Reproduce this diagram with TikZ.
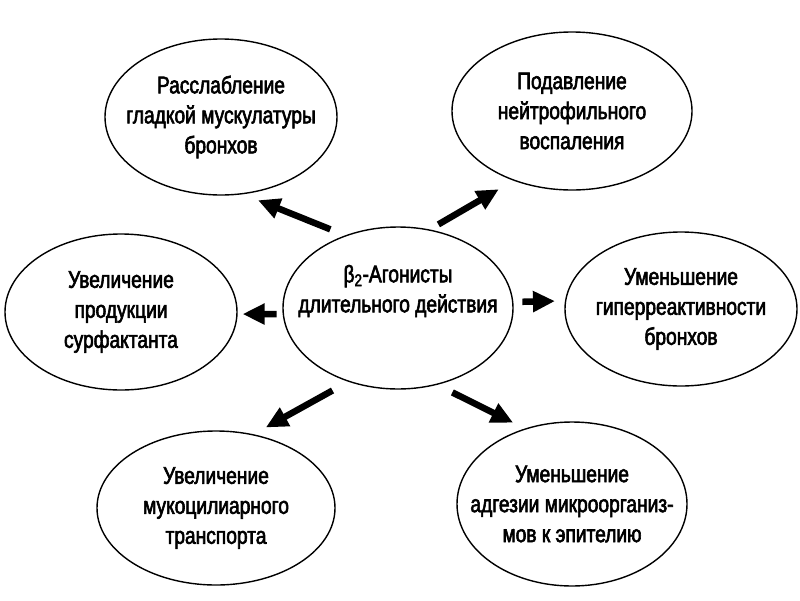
\documentclass[tikz,border=0pt]{standalone}
\usepackage{fontspec}
\setmainfont{Liberation Sans}[FakeStretch=0.8,FakeBold=2.5]
\usetikzlibrary{shapes.geometric,arrows.meta}
\tikzset{
  >=Triangle,
  effect/.style={ellipse,draw,line width=1.4pt,minimum width=232pt,minimum height=156pt,
    inner xsep=-25pt,inner ysep=0pt,align=center,font=\fontsize{24}{30}\selectfont},
}

\begin{document}
\begin{tikzpicture}[
  x=1pt,y=-1pt,
  push/.style={line width=6.5pt,-{Triangle[length=22pt,width=20pt]}},
  caption/.style={align=center,inner sep=0pt,font=\fontsize{24}{30}\selectfont}
]
\useasboundingbox (0,0) rectangle (800,600);

\node[effect,minimum width=230pt,minimum height=162pt] (agon) at (398,308) {};
\node[caption] (agontext) at (398,291) {β\textsubscript{2}-Агонисты\\длительного действия};

\node[effect] (relax) at (221,117) {Расслабление\\гладкой мускулатуры\\бронхов};
\node[effect,minimum width=240pt,minimum height=158pt] (neutro) at (572,111) {Подавление\\нейтрофильного\\воспаления};
\node[effect] (surf) at (121,312) {Увеличение\\продукции\\сурфактанта};
\node[effect,minimum height=154pt] (hyper) at (681,309) {Уменьшение\\гиперреактивности\\бронхов};
\node[effect,minimum width=238pt,minimum height=154pt] (muco) at (216,508) {Увеличение\\мукоцилиарного\\транспорта};
\node[effect,minimum width=230pt,minimum height=164pt] (adhes) at (572,504) {Уменьшение\\адгезии микроорганиз-\\мов к эпителию};

% arrows from the centre
\draw[push,shorten <=16pt,shorten >=16pt] (agon.126.5) -- (relax.-74.8);
\draw[push,shorten <=10pt,shorten >=17pt] (agon.68.8) -- (neutro.230.6);
\draw[push,shorten <=6pt,shorten >=5pt] (agon.183.5) -- (surf.-1.5);
\draw[push,shorten <=9pt,shorten >=10pt] (agon.3) -- (hyper.176.5);
\draw[push,shorten <=18pt,shorten >=14pt] (agon.236.1) -- (muco.63.3);
\draw[push,shorten <=17pt,shorten >=13pt] (agon.-63) -- (adhes.122.1);
\end{tikzpicture}
\end{document}
